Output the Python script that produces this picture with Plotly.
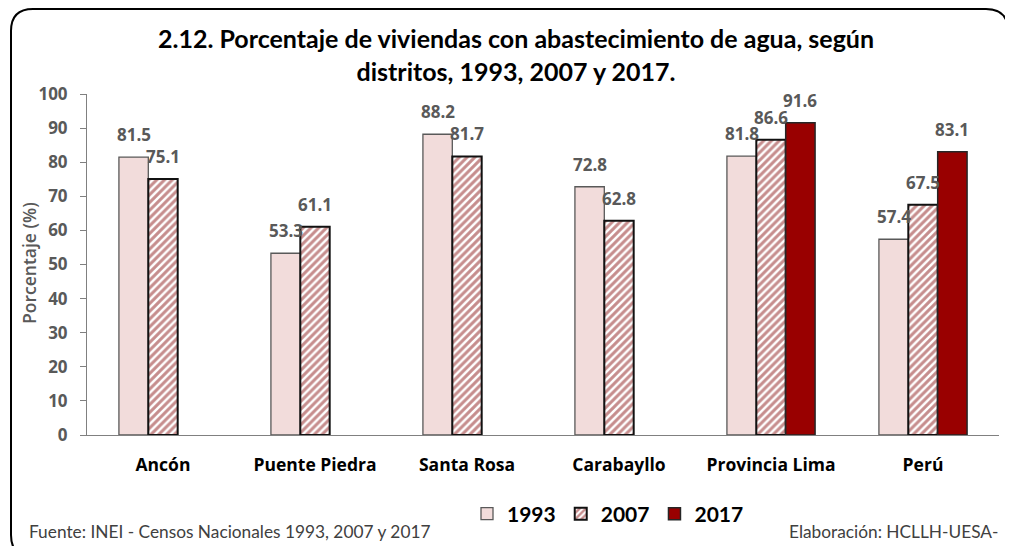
import plotly.graph_objects as go

categories = ["Ancón", "Puente Piedra", "Santa Rosa", "Carabayllo", "Provincia Lima", "Perú"]
v1993 = [81.5, 53.3, 88.2, 72.8, 81.8, 57.4]
v2007 = [75.1, 61.1, 81.7, 62.8, 86.6, 67.5]
v2017 = [None, None, None, None, 91.6, 83.1]
series_names = ["1993", "2007", "2017"]

TFONT = "Lato"
NFONT = "Open Sans"
GRAY = "#595959"

W, H = 1005, 538
L, R, T, B = 79, 14, 86, 111
pw, ph = W - L - R, H - T - B
BARGAP = 0.42
bar_px = pw / len(categories) * (1 - BARGAP) / 3

fig = go.Figure()
fig.add_trace(go.Bar(
    x=categories, y=v1993, name=series_names[0],
    marker=dict(color="#F2DCDB", line=dict(color="#595959", width=1.3)),
))
fig.add_trace(go.Bar(
    x=categories, y=v2007, name=series_names[1],
    marker=dict(color="white", line=dict(color="#111111", width=2),
                pattern=dict(shape="/", fgcolor="#8E1C1C", bgcolor="white",
                             size=5.5, solidity=0.55)),
))
fig.add_trace(go.Bar(
    x=categories, y=v2017, name=series_names[2],
    marker=dict(color="#990000", line=dict(color="#262626", width=1.5)),
))

annotations = []
for i, vals in enumerate([v1993, v2007, v2017]):
    for c, v in zip(categories, vals):
        if v is None:
            continue
        annotations.append(dict(
            x=c, y=v, xref="x", yref="y", text="%.1f" % v, showarrow=False,
            xanchor="center", yanchor="bottom", xshift=(i - 1) * bar_px, yshift=9,
            font=dict(family=NFONT, size=17, color=GRAY, weight="bold"),
        ))


def px(x):
    return (x - L) / pw


def py(y):
    return (H - B - y) / ph


x0, x1, y0, y1 = 3, 1000, 1, 549
r = 22
rx, ry = r / pw, r / ph
path = (
    f"M {px(x0)+rx},{py(y0)} L {px(x1)-rx},{py(y0)} "
    f"Q {px(x1)},{py(y0)} {px(x1)},{py(y0)-ry} "
    f"L {px(x1)},{py(y1)+ry} Q {px(x1)},{py(y1)} {px(x1)-rx},{py(y1)} "
    f"L {px(x0)+rx},{py(y1)} Q {px(x0)},{py(y1)} {px(x0)},{py(y1)+ry} "
    f"L {px(x0)},{py(y0)-ry} Q {px(x0)},{py(y0)} {px(x0)+rx},{py(y0)} Z"
)

annotations += [
    dict(text="Fuente: INEI - Censos Nacionales 1993, 2007 y 2017", xref="paper", yref="paper",
         x=px(19), y=py(523), xanchor="left", yanchor="middle", showarrow=False,
         font=dict(family=TFONT, size=17.3, color="#404040")),
    dict(text="Elaboración: HCLLH-UESA-", xref="paper", yref="paper",
         x=px(992), y=py(523), xanchor="right", yanchor="middle", showarrow=False,
         font=dict(family=TFONT, size=17.3, color="#404040")),
    dict(text="Porcentaje (%)", xref="paper", yref="paper", textangle=-90,
         x=px(21), y=py(255), xanchor="center", yanchor="middle", showarrow=False,
         font=dict(family=NFONT, size=17.5, color=GRAY, weight=600)),
    dict(text="<b>2.12. Porcentaje de viviendas con abastecimiento de agua, según<br>distritos, 1993, 2007 y 2017.</b>",
         xref="paper", yref="paper", x=px(508), y=py(46), xanchor="center", yanchor="middle",
         showarrow=False, align="center",
         font=dict(family=TFONT, size=25, color="black")),
]

fig.update_layout(
    width=W, height=H,
    margin=dict(l=L, r=R, t=T, b=B),
    paper_bgcolor="white", plot_bgcolor="white",
    barmode="group", bargap=BARGAP, bargroupgap=0,
    font=dict(family=NFONT, color=GRAY),
    yaxis=dict(
        range=[0, 100], dtick=10, showgrid=False, zeroline=False,
        showline=True, linecolor="#808080", linewidth=1,
        ticks="outside", ticklen=6, tickcolor="#808080", ticklabelstandoff=9,
        tickfont=dict(family=NFONT, size=17, color=GRAY, weight="bold"),
    ),
    xaxis=dict(
        showline=True, linecolor="#808080", linewidth=1, ticks="", ticklabelstandoff=14,
        tickfont=dict(family=NFONT, size=17.5, color="black", weight="bold"),
    ),
    legend=dict(
        orientation="h", x=px(600), xanchor="center", y=py(506), yanchor="middle",
        font=dict(family=TFONT, size=21, color="black", weight="bold"),
        itemwidth=30, traceorder="normal",
    ),
    showlegend=True,
    shapes=[dict(type="path", xref="paper", yref="paper", path=path,
                 line=dict(color="black", width=2), layer="below")],
    annotations=annotations,
)

fig.write_html("out.html")
